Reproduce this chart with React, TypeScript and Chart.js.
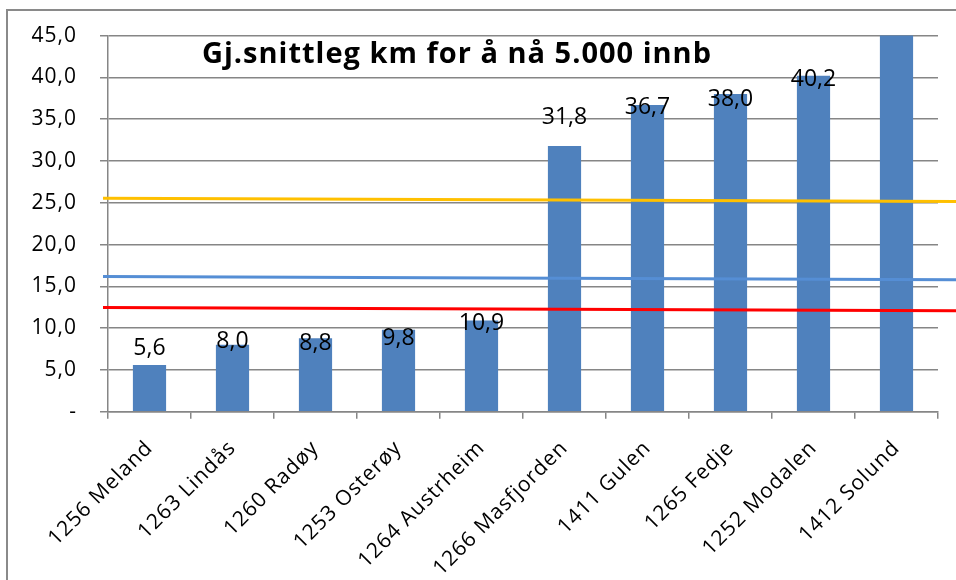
import React, { useEffect, useRef } from 'react';
import { Chart, registerables } from 'chart.js';

Chart.register(...registerables);

const titleText = 'Gj.snittleg km for å nå 5.000 innb';
const categories = [
  '1256 Meland',
  '1263 Lindås',
  '1260 Radøy',
  '1253 Osterøy',
  '1264 Austrheim',
  '1266 Masfjorden',
  '1411 Gulen',
  '1265 Fedje',
  '1252 Modalen',
  '1412 Solund',
];
const values = [5.6, 8.0, 8.8, 9.8, 10.9, 31.8, 36.7, 38.0, 40.2, 55.0];
// label centre offset from bar top in px (style only)
const labelNudge = [-16, -3, 5, 9, 3, -28, 2, 5, 4, 0];

// reference lines: start/end positions in category-index units
const lineX = [-0.56, 9.72];
const yellowLine = [25.55, 25.15];
const blueLine = [16.19, 15.79];
const redLine = [12.48, 12.09];

const yMin = 0;
const yMax = 45;
const yStep = 5;

const FONT = '"Open Sans", "Noto Sans", sans-serif';

const fmt = (v: number) => (v === 0 ? '-' : v.toFixed(1).replace('.', ','));

export default function App() {
  const ref = useRef<HTMLCanvasElement | null>(null);

  useEffect(() => {
    document.body.style.margin = '0';
    const canvas = ref.current;
    if (!canvas) return;

    const framePlugin = {
      id: 'frame',
      beforeDraw(chart: any) {
        const ctx = chart.ctx;
        ctx.save();
        ctx.fillStyle = '#ffffff';
        ctx.fillRect(0, 0, chart.width, chart.height);
        ctx.strokeStyle = '#8a8a8a';
        ctx.lineWidth = 2;
        ctx.strokeRect(7, 10, 3000, 3000);
        ctx.restore();
        (ctx as any).letterSpacing = '1px';
      },
    };

    const labelPlugin = {
      id: 'barLabels',
      afterDatasetsDraw(chart: any) {
        const ctx = chart.ctx;
        const meta = chart.getDatasetMeta(3);
        ctx.save();
        (ctx as any).letterSpacing = '0px';
        ctx.font = `23px ${FONT}`;
        ctx.fillStyle = '#000000';
        ctx.textAlign = 'center';
        ctx.textBaseline = 'middle';
        meta.data.forEach((bar: any, i: number) => {
          if (values[i] > yMax) return;
          ctx.fillText(fmt(values[i]), bar.x, bar.y + labelNudge[i]);
        });
        ctx.restore();
      },
      afterDraw(chart: any) {
        const ctx = chart.ctx;
        ctx.save();
        (ctx as any).letterSpacing = '1px';
        ctx.font = `bold 29px ${FONT}`;
        ctx.fillStyle = '#000000';
        ctx.textAlign = 'center';
        ctx.textBaseline = 'alphabetic';
        ctx.fillText(titleText, 457, 63);
        ctx.restore();
      },
    };

    const mkLine = (vals: number[], color: string) => ({
      type: 'line' as const,
      parsing: false,
      normalized: true,
      data: lineX.map((x, i) => ({ x, y: vals[i] })),
      borderColor: color,
      borderWidth: 3,
      pointRadius: 0,
      fill: false,
      clip: false,
      order: 0,
    });

    const chart = new Chart(canvas, {
      type: 'bar',
      data: {
        labels: categories,
        datasets: [
          mkLine(yellowLine, '#FFC000') as any,
          mkLine(blueLine, '#558ED5') as any,
          mkLine(redLine, '#FF0000') as any,
          {
            type: 'bar',
            data: values,
            backgroundColor: '#4F81BD',
            categoryPercentage: 1,
            barPercentage: 0.4,
            grouped: false,
            order: 1,
          },
        ],
      },
      options: {
        responsive: false,
        animation: false,
        layout: { padding: { top: 27, right: 18, left: 0, bottom: 0 } },
        plugins: {
          legend: { display: false },
          tooltip: { enabled: false },
          title: { display: false },
        },
        scales: {
          x: {
            type: 'category',
            offset: true,
            grid: {
              display: true,
              offset: true,
              drawOnChartArea: false,
              drawTicks: true,
              tickLength: 7,
              color: '#868686',
              lineWidth: 1.5,
            },
            border: { display: true, color: '#868686', width: 1.5 },
            ticks: {
              minRotation: 45,
              maxRotation: 45,
              autoSkip: false,
              padding: 17,
              color: '#000000',
              font: { family: FONT, size: 21 },
            },
            afterFit(scale: any) {
              scale.height = 168.3;
            },
          },
          y: {
            min: yMin,
            max: yMax,
            grid: {
              color: '#868686',
              lineWidth: 1.5,
              drawTicks: true,
              tickLength: 8,
            },
            border: { display: true, color: '#868686', width: 1.5 },
            ticks: {
              stepSize: yStep,
              padding: 23,
              color: '#000000',
              font: { family: FONT, size: 21 },
              callback: (v: any) => fmt(Number(v)),
            },
            afterFit(scale: any) {
              scale.width = 108;
            },
          },
        },
      },
      plugins: [framePlugin, labelPlugin],
    });

    return () => chart.destroy();
  }, []);

  return (
    <div style={{ width: 956, height: 580 }}>
      <canvas ref={ref} width={956} height={580} style={{ display: 'block' }} />
    </div>
  );
}
